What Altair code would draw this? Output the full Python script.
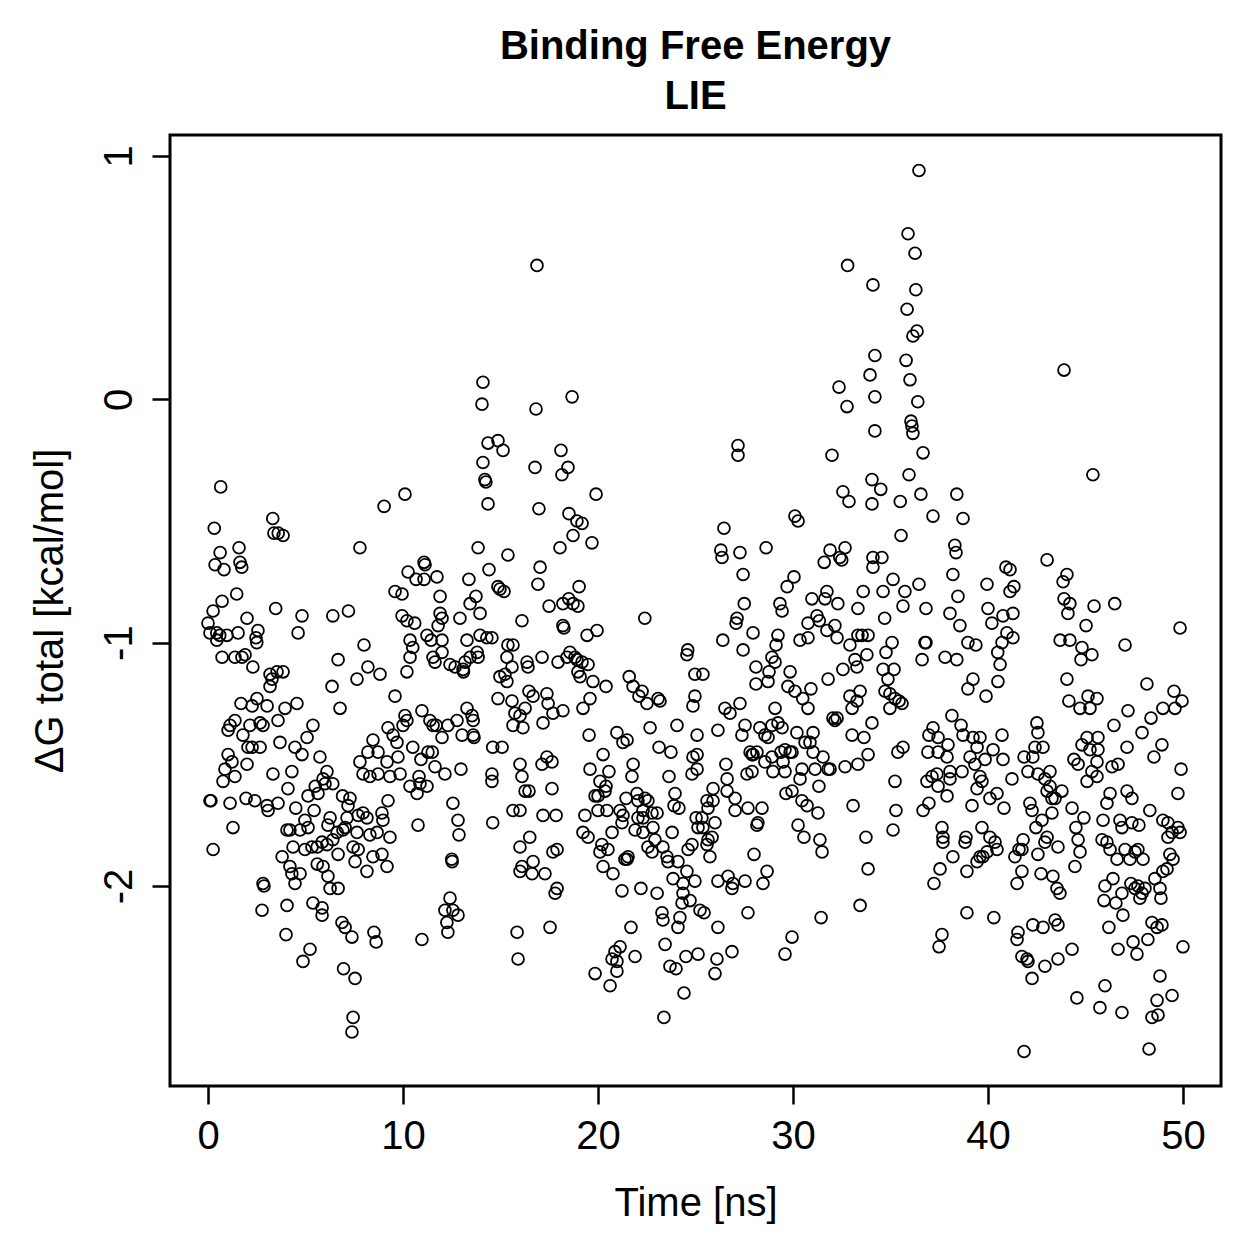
import altair as alt
import pandas as pd

# (time [ns], dG total [kcal/mol]), grouped by time range
seg_00_07 = [
    (0.65,-0.36),(0.32,-0.53),(0.62,-0.63),(0.36,-0.68),(0.82,-0.70),(1.59,-0.61),(1.64,-0.67),(1.73,-0.69),
    (3.32,-0.49),(3.38,-0.55),(3.6,-0.55),(3.85,-0.56),(1.47,-0.80),(0.72,-0.83),(0.26,-0.87),(3.47,-0.86),
    (2.0,-0.90),(4.82,-0.89),(6.4,-0.89),
    (0.0,-0.92),(2.56,-0.95),(4.62,-0.96),(0.1,-0.96),(0.45,-0.96),(0.6,-0.97),(0.97,-0.97),(0.45,-0.99),
    (1.54,-0.96),(2.46,-0.98),(2.5,-1.0),(0.72,-1.06),(1.38,-1.06),(1.74,-1.06),(1.9,-1.05),(2.3,-1.10),
    (3.18,-1.13),(3.28,-1.15),(3.54,-1.12),(3.85,-1.12),(3.18,-1.18),(6.67,-1.07),(6.36,-1.18),(6.77,-1.27),
    (1.69,-1.25),(2.26,-1.26),(2.51,-1.23),(3.03,-1.26),(3.95,-1.27),(4.56,-1.25),(1.38,-1.32),(1.13,-1.34),
    (1.03,-1.36),(1.79,-1.38),(2.15,-1.34),(2.67,-1.33),(2.82,-1.34),(3.59,-1.32),(5.38,-1.34),(5.08,-1.39),
    (3.69,-1.41),(4.46,-1.43),(4.82,-1.46),(5.74,-1.47),(2.05,-1.43),(2.26,-1.43),(2.67,-1.43),(1.03,-1.46),
    (1.23,-1.49),(2.0,-1.50),(0.87,-1.52),(1.38,-1.55),(0.77,-1.57),(3.33,-1.54),(4.3,-1.53),(4.1,-1.60),
    (6.1,-1.53),(5.9,-1.56),(6.0,-1.58),(6.4,-1.58),(6.9,-1.63),(5.5,-1.59),(5.64,-1.62),(5.13,-1.63),
    (0.1,-1.65),(0.15,-1.65),(1.13,-1.66),(1.95,-1.64),(2.4,-1.65),(3.03,-1.67),(3.08,-1.69),(3.59,-1.66),
    (4.5,-1.68),(5.44,-1.69),(4.97,-1.73),(5.13,-1.76),(6.26,-1.72),(6.15,-1.75),(6.62,-1.78),(6.92,-1.77),
    (6.4,-1.81),(6.1,-1.83),(4.05,-1.77),(4.2,-1.77),(4.72,-1.77),(1.28,-1.76),(0.26,-1.85),(4.36,-1.84),
    (4.97,-1.85),(5.33,-1.84),(5.6,-1.84),(5.85,-1.82),(6.67,-1.87),(3.8,-1.88),(4.2,-1.92),(4.3,-1.95),
    (4.72,-1.95),(4.46,-1.99),(5.6,-1.91),(5.9,-1.92),(6.15,-1.96),(6.26,-2.01),(6.67,-2.01),(2.82,-1.99),
    (2.87,-2.0),(2.77,-2.10),(4.05,-2.08),(5.38,-2.07),(5.85,-2.09),(5.85,-2.12),(4.0,-2.20),(6.87,-2.15),
    (5.23,-2.26),(4.87,-2.31),(6.95,-2.34),
]

seg_07_16 = [
    (7.2,-0.87),(9.95,-0.89),(10.2,-0.91),(10.6,-0.92),(11.9,-0.88),(12.0,-0.90),(11.8,-0.93),(12.92,-0.90),
    (13.95,-0.88),(16.1,-0.91),
    (14.1,0.07),(14.05,-0.02),(14.36,-0.18),(14.87,-0.17),(15.13,-0.21),(14.1,-0.26),(14.2,-0.33),(14.25,-0.34),
    (14.36,-0.43),(9.03,-0.44),(10.1,-0.39),(7.79,-0.61),(13.85,-0.61),(15.38,-0.64),(11.08,-0.67),(11.13,-0.68),
    (10.26,-0.71),(10.67,-0.74),(11.08,-0.74),(11.74,-0.73),(13.38,-0.74),(14.41,-0.70),(9.59,-0.79),(9.95,-0.80),
    (14.87,-0.77),(14.97,-0.78),(15.18,-0.79),(11.9,-0.81),(13.44,-0.84),(13.74,-0.81),
    (8.0,-1.01),(8.2,-1.10),(8.82,-1.13),(7.64,-1.15),(10.2,-1.12),(10.36,-0.99),(10.5,-1.02),(10.36,-1.06),
    (11.23,-0.97),(11.44,-0.99),(11.54,-1.06),(11.64,-1.08),(12.0,-0.99),(12.0,-1.04),(12.41,-1.09),(12.67,-1.10),
    (13.08,-1.11),(13.18,-1.08),(13.28,-0.99),(13.44,-1.06),(13.8,-1.04),(13.85,-1.06),(13.1,-1.12),(13.95,-0.97),
    (14.3,-0.98),(14.56,-0.98),(15.38,-1.01),(15.64,-1.01),(15.33,-1.06),(15.59,-1.10),(15.23,-1.13),(14.97,-1.14),
    (15.33,-1.16),(9.59,-1.22),(10.97,-1.28),(10.1,-1.30),(10.2,-1.32),(10.0,-1.34),(9.23,-1.35),
    (11.38,-1.32),(11.54,-1.34),(11.7,-1.34),(12.3,-1.34),(12.77,-1.32),(13.28,-1.27),(13.54,-1.30),(13.6,-1.32),
    (13.03,-1.38),(13.6,-1.38),(13.64,-1.39),(12.0,-1.39),(14.87,-1.23),(15.59,-1.24),(15.74,-1.29),(16.0,-1.30),
    (15.64,-1.34),(16.15,-1.35),(8.46,-1.40),(9.49,-1.38),(9.69,-1.41),(8.2,-1.45),(8.72,-1.45),(7.79,-1.49),
    (9.18,-1.49),(9.74,-1.47),(9.33,-1.55),(9.85,-1.54),(7.95,-1.54),(8.3,-1.55),(8.72,-1.54),(10.5,-1.43),
    (10.92,-1.48),(11.28,-1.45),(11.5,-1.45),(11.64,-1.51),(12.15,-1.54),(12.97,-1.52),(10.36,-1.59),(10.82,-1.55),
    (10.87,-1.58),(10.72,-1.62),(11.23,-1.59),(14.6,-1.43),(15.08,-1.43),(14.56,-1.54),(14.56,-1.57),(16.0,-1.50),
    (16.1,-1.55),(16.26,-1.61),(12.56,-1.66),(12.82,-1.73),(12.87,-1.79),(15.64,-1.69),(14.6,-1.74),(10.77,-1.75),
    (9.23,-1.65),(8.92,-1.70),(8.97,-1.73),(7.95,-1.70),(8.15,-1.72),(7.7,-1.71),(7.28,-1.64),(7.18,-1.67),
    (7.13,-1.72),(7.03,-1.76),(7.64,-1.78),(8.3,-1.79),(8.67,-1.78),(9.33,-1.80),(7.44,-1.84),(7.7,-1.85),
    (7.54,-1.90),(8.15,-1.94),(8.46,-1.88),(8.92,-1.87),(9.18,-1.92),(12.5,-1.89),(12.52,-1.90),(12.41,-2.05),
    (12.15,-2.10),(12.56,-2.10),(12.82,-2.12),(12.25,-2.15),(12.3,-2.19),(15.85,-2.19),(15.9,-2.30),(10.97,-2.22),
    (8.51,-2.19),(8.62,-2.23),(7.03,-2.17),(7.38,-2.21),(7.54,-2.38),(7.44,-2.54),(7.38,-2.60),
]

seg_16_25 = [
    (16.87,0.55),(18.67,0.01),(16.82,-0.04),(18.1,-0.21),(16.77,-0.28),(18.46,-0.28),(18.15,-0.31),(19.9,-0.39),
    (16.97,-0.45),(18.51,-0.47),(18.92,-0.50),(19.18,-0.51),(18.72,-0.56),(19.69,-0.59),(18.05,-0.61),(17.03,-0.69),
    (16.92,-0.76),(19.03,-0.77),(17.49,-0.85),(18.2,-0.84),(18.5,-0.82),(18.72,-0.84),(18.97,-0.85),(22.4,-0.9),
    (18.2,-0.93),(18.25,-0.94),(19.44,-0.97),(19.95,-0.95),(24.6,-1.03),(24.56,-1.05),(16.36,-1.08),(16.41,-1.10),
    (17.13,-1.06),(17.95,-1.08),(18.41,-1.06),(18.56,-1.04),(18.82,-1.06),(18.92,-1.07),(19.18,-1.08),(19.49,-1.09),
    (18.97,-1.12),(19.08,-1.14),(19.74,-1.16),(20.41,-1.18),(16.46,-1.20),(16.67,-1.22),(17.38,-1.21),(17.44,-1.25),
    (17.69,-1.29),(18.2,-1.28),(16.26,-1.27),(17.18,-1.33),(19.59,-1.23),(19.23,-1.27),(21.6,-1.14),(21.8,-1.18),
    (22.1,-1.22),(22.26,-1.20),(22.51,-1.25),(23.08,-1.23),(23.18,-1.24),(24.97,-1.13),(24.97,-1.22),(24.87,-1.26),
    (19.54,-1.38),(20.97,-1.37),(21.28,-1.41),(21.49,-1.40),(22.67,-1.35),(24.05,-1.34),(23.13,-1.43),(23.74,-1.45),
    (25.08,-1.38),(24.87,-1.47),(25.08,-1.46),(24.82,-1.54),(25.08,-1.52),(17.13,-1.50),(17.38,-1.47),(17.64,-1.49),
    (16.46,-1.61),(17.64,-1.60),(16.0,-1.69),(17.18,-1.71),(17.85,-1.71),(16.5,-1.80),(16.0,-1.84),(16.1,-1.92),
    (16.0,-1.94),(16.67,-1.90),(16.62,-1.95),(17.28,-1.95),(17.69,-1.86),(17.9,-1.85),(17.8,-2.03),(17.9,-2.01),
    (17.54,-2.17),
    (20.26,-1.46),(20.56,-1.53),(19.59,-1.52),(20.1,-1.57),(20.41,-1.59),(20.36,-1.61),(19.85,-1.63),(20.0,-1.63),
    (20.0,-1.69),(20.46,-1.69),(21.13,-1.69),(21.28,-1.71),(21.23,-1.74),(20.72,-1.78),(19.33,-1.71),(19.23,-1.78),
    (19.49,-1.80),(20.2,-1.83),(20.1,-1.86),(20.51,-1.85),(20.26,-1.92),(20.77,-1.95),
    (21.8,-1.50),(21.74,-1.55),(21.44,-1.64),(22.0,-1.62),(22.05,-1.65),(22.41,-1.64),(22.56,-1.65),(22.31,-1.69),
    (22.77,-1.70),(23.03,-1.70),(22.05,-1.72),(22.31,-1.72),(22.82,-1.76),(21.9,-1.77),(22.31,-1.78),(22.92,-1.81),
    (22.56,-1.84),(22.77,-1.86),(23.33,-1.84),(23.54,-1.88),(23.59,-1.90),(21.54,-1.88),(21.49,-1.89),(21.38,-1.89),
    (23.64,-1.55),(23.95,-1.62),(23.9,-1.67),(24.15,-1.68),(23.8,-1.78),(25.03,-1.72),(25.13,-1.76),(24.62,-1.85),
    (24.82,-1.83),(24.1,-1.90),(24.56,-1.94),(23.85,-1.97),(24.36,-1.99),(24.97,-1.98),(24.36,-2.03),(24.31,-2.07),
    (24.72,-2.06),(25.23,-2.10),(21.23,-2.02),(22.2,-2.01),(23.03,-2.03),(23.28,-2.11),(23.33,-2.14),(24.2,-2.13),
    (24.1,-2.17),(21.69,-2.17),(23.44,-2.24),(24.51,-2.29),(25.13,-2.28),(23.69,-2.33),(24.0,-2.34),(24.41,-2.44),
    (23.38,-2.54),(21.13,-2.25),(20.87,-2.27),(20.72,-2.30),(20.97,-2.31),(20.97,-2.35),(20.62,-2.41),(21.9,-2.29),
    (19.85,-2.36),
]

seg_25_34 = [
    (32.8,0.55),(34.1,0.47),(34.2,0.18),(33.95,0.10),(32.36,0.05),(32.77,-0.03),(34.2,0.01),(34.2,-0.13),
    (27.18,-0.19),(27.18,-0.23),(32.0,-0.23),(34.05,-0.33),(32.56,-0.38),(32.87,-0.42),(34.05,-0.43),(30.1,-0.48),
    (30.26,-0.50),(26.46,-0.53),(26.3,-0.62),(26.36,-0.65),(27.28,-0.63),(28.62,-0.61),(31.9,-0.62),(32.67,-0.61),
    (32.4,-0.65),(32.5,-0.66),(31.6,-0.67),(34.1,-0.65),(34.1,-0.69),(27.44,-0.72),(29.7,-0.77),(30.05,-0.73),
    (33.6,-0.79),(27.5,-0.84),(29.33,-0.84),(29.44,-0.87),(30.97,-0.82),(31.74,-0.79),(31.64,-0.82),(32.3,-0.84),
    (33.33,-0.86),(27.13,-0.9),(31.23,-0.89),
    (27.08,-0.92),(27.95,-0.96),(26.4,-0.99),(27.44,-1.03),(29.23,-0.97),(29.13,-1.01),(28.92,-1.06),(29.08,-1.08),
    (28.1,-1.10),(28.1,-1.17),(28.77,-1.12),(28.72,-1.16),(30.77,-0.92),(31.35,-0.91),(31.74,-0.95),(32.15,-0.93),
    (32.26,-0.98),(30.36,-0.99),(30.77,-0.98),(32.92,-1.01),(33.33,-0.97),(33.54,-0.97),(33.85,-0.97),(33.18,-1.07),
    (33.28,-1.10),(33.79,-1.05),(32.56,-1.11),(31.8,-1.15),(29.85,-1.12),(29.74,-1.18),(30.1,-1.20),(30.5,-1.23),
    (30.77,-1.27),(30.92,-1.19),(32.92,-1.22),(33.44,-1.20),(33.28,-1.24),(33.03,-1.27),(32.05,-1.31),(32.26,-1.31),
    (32.15,-1.32),(34.05,-1.33),(25.38,-1.13),(26.51,-1.27),(26.77,-1.29),(27.28,-1.25),(29.08,-1.27),(26.15,-1.36),
    (27.54,-1.34),(27.38,-1.38),(28.3,-1.35),(28.56,-1.38),(28.72,-1.39),(28.92,-1.34),(29.23,-1.33),(29.44,-1.35),
    (30.2,-1.37),(30.62,-1.41),(30.87,-1.41),(31.03,-1.37),(33.03,-1.38),(33.64,-1.39),(33.85,-1.46),(33.33,-1.50),
    (32.67,-1.51),(27.8,-1.45),(27.95,-1.46),(27.9,-1.46),(28.15,-1.45),(28.56,-1.49),(28.92,-1.47),(29.38,-1.45),
    (29.59,-1.44),(29.85,-1.45),(29.95,-1.45),(29.49,-1.49),(28.97,-1.53),(29.59,-1.53),(30.46,-1.52),(30.36,-1.56),
    (31.13,-1.52),(31.03,-1.45),(31.54,-1.47),(31.8,-1.52),(31.9,-1.52),
    (26.56,-1.50),(26.62,-1.56),(26.62,-1.61),(27.64,-1.54),(27.9,-1.53),(25.9,-1.60),(25.59,-1.65),(25.9,-1.65),
    (25.64,-1.68),(26.0,-1.74),(25.33,-1.72),(25.38,-1.76),(25.64,-1.81),(25.85,-1.80),(25.59,-1.83),(25.74,-1.88),
    (27.03,-1.64),(27.03,-1.69),(27.69,-1.68),(28.41,-1.68),(28.2,-1.74),(28.15,-1.75),(29.64,-1.62),(29.95,-1.61),
    (30.46,-1.65),(30.72,-1.67),(31.33,-1.59),(31.28,-1.70),(30.26,-1.75),(30.56,-1.80),(31.38,-1.81),(31.49,-1.86),
    (28.0,-1.87),(33.08,-1.67),(33.74,-1.80),(33.85,-1.93),(33.44,-2.08),(26.15,-1.98),(26.67,-1.96),(26.87,-2.01),
    (26.92,-1.99),(27.54,-1.98),(28.67,-1.94),(28.46,-1.99),(25.44,-2.11),(26.15,-2.17),(27.69,-2.11),(31.44,-2.13),
    (29.95,-2.21),(29.59,-2.28),(26.1,-2.30),(26.87,-2.27),(26.0,-2.36),
]

seg_34_43 = [
    (36.46,0.94),(35.9,0.68),(36.26,0.60),(36.3,0.45),(35.85,0.37),(36.36,0.28),(36.15,0.26),(35.8,0.16),
    (36.0,0.08),(36.4,-0.01),(36.05,-0.09),(36.1,-0.11),(36.15,-0.14),(36.67,-0.22),(35.95,-0.31),(34.5,-0.37),
    (35.5,-0.42),(36.56,-0.39),(38.4,-0.39),(37.18,-0.48),(38.72,-0.49),(35.54,-0.56),(38.3,-0.60),(38.36,-0.63),
    (43.03,-0.66),(34.56,-0.65),(35.13,-0.74),(34.62,-0.79),(35.74,-0.79),(36.46,-0.76),(35.64,-0.85),(36.82,-0.86),
    (38.2,-0.72),(38.46,-0.81),(38.05,-0.88),(39.95,-0.76),(40.0,-0.86),(40.92,-0.69),(41.13,-0.70),(41.33,-0.77),
    (41.13,-0.79),(40.77,-0.89),(41.28,-0.88),(34.7,-0.9),
    (38.56,-0.93),(40.2,-0.92),(40.97,-0.96),(41.28,-0.98),(40.72,-1.0),(40.5,-1.04),(40.62,-1.09),(40.51,-1.16),
    (35.08,-1.0),(34.77,-1.04),(36.77,-1.0),(36.82,-1.0),(36.62,-1.07),(37.8,-1.06),(38.4,-1.07),(38.97,-1.0),
    (39.38,-1.01),(39.23,-1.15),(38.97,-1.19),(39.9,-1.22),(34.62,-1.11),(35.18,-1.11),(34.87,-1.15),(34.72,-1.20),
    (34.97,-1.21),(35.23,-1.23),(35.44,-1.24),(35.59,-1.25),(34.97,-1.27),(38.15,-1.30),(38.62,-1.34),(38.72,-1.38),
    (37.18,-1.35),(36.97,-1.38),(37.44,-1.39),(37.95,-1.42),(36.92,-1.45),(37.44,-1.45),(37.9,-1.47),(39.23,-1.39),
    (39.59,-1.39),(39.44,-1.43),(40.72,-1.38),(40.26,-1.44),(39.85,-1.48),(39.33,-1.50),(40.77,-1.48),(39.08,-1.47),
    (35.38,-1.45),(35.64,-1.43),(35.23,-1.57),(35.28,-1.69),(35.13,-1.77),(36.87,-1.57),(37.13,-1.55),(37.38,-1.54),
    (37.44,-1.59),(38.05,-1.53),(38.05,-1.56),(38.67,-1.53),(37.9,-1.63),(36.67,-1.69),(36.97,-1.66),(39.59,-1.55),
    (39.69,-1.57),(39.44,-1.60),(40.1,-1.64),(40.46,-1.62),(39.18,-1.67),(41.23,-1.56),(40.82,-1.68),(41.85,-1.47),
    (42.3,-1.47),(42.51,-1.33),(42.56,-1.37),(42.41,-1.43),(42.82,-1.43),(42.05,-1.53),(42.56,-1.54),(42.92,-1.56),
    (43.03,-1.61),(42.15,-1.66),(42.26,-1.69),(42.77,-1.73),(42.46,-1.76),(43.03,-1.80),(37.64,-1.76),(37.69,-1.80),
    (37.69,-1.82),(38.2,-1.88),(37.54,-1.93),(37.23,-1.99),(38.87,-1.80),(38.82,-1.82),(38.92,-1.94),(39.69,-1.76),
    (40.1,-1.80),(40.36,-1.82),(40.46,-1.85),(39.95,-1.86),(39.74,-1.88),(39.59,-1.88),(39.44,-1.90),(41.8,-1.81),
    (41.59,-1.85),(41.74,-1.85),(41.38,-1.88),(41.74,-1.94),(41.49,-1.99),(42.56,-1.87),(42.72,-1.95),(38.92,-2.11),
    (40.3,-2.13),(37.64,-2.20),(37.49,-2.25),(41.54,-2.19),(41.49,-2.22),(42.3,-2.16),(42.82,-2.17),(41.74,-2.29),
    (42.0,-2.30),(42.05,-2.31),(42.92,-2.33),(42.26,-2.38),(41.85,-2.68),
]

seg_43_50 = [
    (43.9,0.12),(45.38,-0.31),(44.05,-0.72),(43.85,-0.75),(43.9,-0.82),(44.2,-0.84),(44.1,-0.88),(45.44,-0.85),
    (46.5,-0.84),(49.85,-0.94),(45.03,-0.93),(43.7,-0.99),(44.2,-0.99),(44.82,-1.02),(45.33,-1.05),(44.77,-1.07),
    (47.03,-1.01),(44.05,-1.15),(44.15,-1.24),(44.72,-1.27),(45.13,-1.22),(45.23,-1.27),(45.59,-1.23),(47.18,-1.28),
    (48.15,-1.17),(49.54,-1.20),(49.95,-1.24),(49.59,-1.27),(48.97,-1.27),(48.36,-1.31),(47.9,-1.37),(46.46,-1.34),
    (45.08,-1.39),(45.64,-1.39),(44.82,-1.42),(45.23,-1.44),(45.64,-1.44),(44.41,-1.48),(44.62,-1.50),(45.59,-1.49),
    (45.33,-1.53),(45.59,-1.55),(45.08,-1.57),(46.36,-1.51),(46.67,-1.50),(47.13,-1.43),(48.92,-1.42),(48.51,-1.47),
    (49.9,-1.52),(49.74,-1.62),(43.18,-1.53),(43.18,-1.59),(43.28,-1.64),(43.44,-1.64),(43.79,-1.61),(43.28,-1.70),
    (42.92,-1.82),(43.59,-1.84),(44.31,-1.68),(44.92,-1.72),(44.51,-1.76),(44.62,-1.81),(44.72,-1.86),(44.46,-1.92),
    (46.26,-1.62),(46.1,-1.66),(45.9,-1.73),(46.77,-1.73),(46.87,-1.76),(47.38,-1.74),(47.74,-1.75),(47.13,-1.61),
    (47.38,-1.64),(48.3,-1.69),(48.97,-1.73),(49.23,-1.74),(49.74,-1.76),(49.85,-1.78),(49.44,-1.78),(49.23,-1.80),
    (45.85,-1.81),(46.1,-1.82),(46.26,-1.85),(46.62,-1.89),(47.03,-1.85),(47.28,-1.89),(47.54,-1.86),(47.69,-1.85),
    (47.95,-1.89),(49.33,-1.87),(49.49,-1.89),(49.18,-1.93),(48.97,-1.94),(46.0,-2.00),(46.41,-1.97),(45.95,-2.06),
    (46.56,-2.07),(46.87,-2.03),(47.33,-1.99),(47.54,-2.01),(47.69,-2.00),(47.9,-2.03),(48.05,-2.01),(47.79,-2.05),
    (48.56,-1.97),(48.82,-2.01),(48.87,-2.05),(43.33,-1.96),(43.54,-2.01),(43.69,-2.03),(46.92,-2.12),(46.2,-2.17),
    (43.44,-2.14),(43.59,-2.16),(48.41,-2.15),(48.67,-2.17),(48.92,-2.16),(50.0,-2.25),(44.31,-2.26),(43.59,-2.30),
    (46.67,-2.26),(47.44,-2.23),(47.64,-2.28),(48.2,-2.22),(48.82,-2.37),(48.67,-2.47),(49.44,-2.45),(48.41,-2.54),
    (48.72,-2.53),(46.0,-2.41),(44.56,-2.46),(45.74,-2.50),(46.87,-2.52),(48.26,-2.67),
]

x_ticks = [0, 10, 20, 30, 40, 50]
y_ticks = [-2, -1, 0, 1]

points = seg_00_07 + seg_07_16 + seg_16_25 + seg_25_34 + seg_34_43 + seg_43_50
df = pd.DataFrame(points, columns=["time", "dg"])

FONT = "Liberation Sans"

chart = alt.Chart(df).mark_point(
    shape="circle", filled=False, color="black", size=140, strokeWidth=1.8, opacity=1
).encode(
    x=alt.X("time:Q",
            scale=alt.Scale(domain=[-1.95, 51.95], nice=False, zero=False),
            axis=alt.Axis(values=x_ticks, title="Time [ns]", labelExpr="'' + datum.value",
                          labelBaseline="middle", labelAlign="center", labelPadding=32,
                          titleX=525.5, titleY=117, titleBaseline="middle", titleAlign="center")),
    y=alt.Y("dg:Q",
            scale=alt.Scale(domain=[-2.822, 1.086], nice=False, zero=False),
            axis=alt.Axis(values=y_ticks, title="ΔG total [kcal/mol]", labelExpr="'' + datum.value",
                          labelAngle=270, labelAlign="center", labelBaseline="middle", labelPadding=33,
                          titleAngle=270, titleX=-120, titleY=475.5, titleBaseline="middle",
                          titleAlign="center")),
).properties(
    width=1051, height=951,
    title=alt.TitleParams(text=["Binding Free Energy", "LIE"], font=FONT, fontSize=40,
                          fontWeight="bold", color="black", anchor="middle", frame="group",
                          offset=18, lineHeight=50),
    autosize=alt.AutoSizeParams(type="none"),
    padding={"left": 170, "top": 135, "right": 38, "bottom": 173},
).configure_view(
    stroke="black", strokeWidth=3
).configure_axis(
    grid=False, domain=False, tickColor="black", tickWidth=2.5, tickSize=18,
    labelFont=FONT, labelFontSize=40, labelColor="black", labelOverlap=False, labelFlush=False,
    titleFont=FONT, titleFontSize=40, titleFontWeight="normal", titleColor="black"
)

chart.save("out.html", embed_options={"renderer": "svg", "actions": False})
